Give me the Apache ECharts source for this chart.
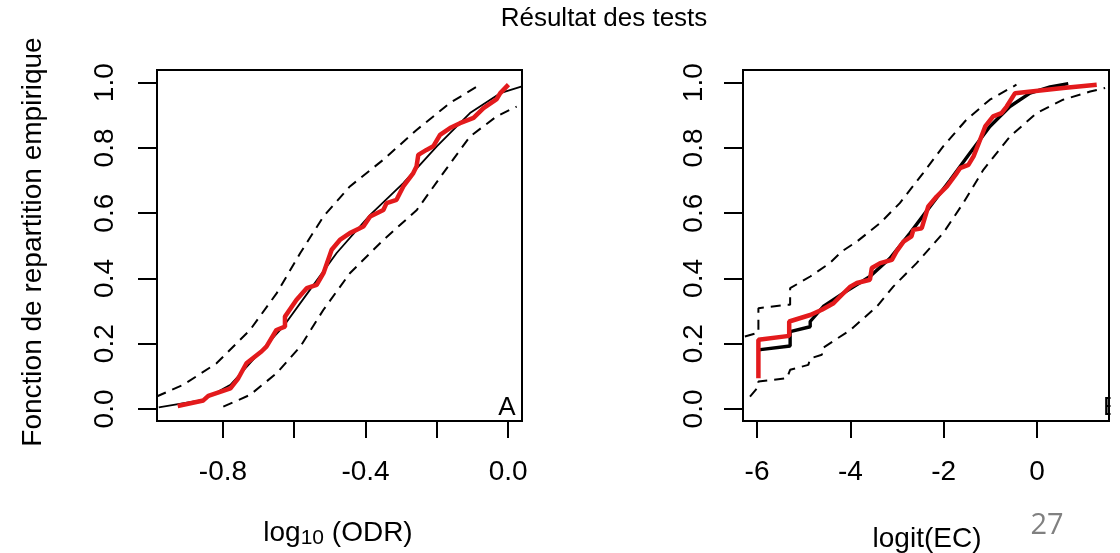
<!DOCTYPE html>
<html>
<head>
<meta charset="utf-8">
<script src="https://cdn.jsdelivr.net/npm/echarts@6/dist/echarts.min.js"></script>
<style>
html,body{margin:0;padding:0;background:#fff;}
#chart{width:1120px;height:553px;}
</style>
</head>
<body>
<div id="chart"></div>
<script>
// ---------- text ----------
const titleText = 'Résultat des tests';
const yAxisTitle = 'Fonction de repartition empirique';
const panelALabel = 'A';
const panelBLabel = 'B';
const pageNumber = '27';

// ---------- ticks ----------
const yTicks = [0, 0.2, 0.4, 0.6, 0.8, 1.0];
const odrTicks = [-0.8, -0.6, -0.4, -0.2, 0];
const odrTickLabels = [-0.8, -0.4, 0];
const ecTicks = [-6, -4, -2, 0];

// ---------- panel A : log10(ODR) ----------
const odrTheoretical = [
  [-0.98, 0.005], [-0.855, 0.028], [-0.779, 0.074], [-0.724, 0.14], [-0.631, 0.252],
  [-0.556, 0.365], [-0.481, 0.478], [-0.387, 0.595], [-0.294, 0.692], [-0.2, 0.805],
  [-0.107, 0.907], [-0.022, 0.968], [0.039, 0.989]
];
const odrUpper = [
  [-0.986, 0.038], [-0.911, 0.074], [-0.818, 0.14], [-0.724, 0.242], [-0.649, 0.355],
  [-0.583, 0.478], [-0.518, 0.59], [-0.444, 0.682], [-0.35, 0.764], [-0.256, 0.856],
  [-0.163, 0.938], [-0.083, 0.991]
];
const odrLower = [
  [-0.799, 0.007], [-0.724, 0.043], [-0.649, 0.11], [-0.583, 0.191], [-0.518, 0.304],
  [-0.444, 0.416], [-0.35, 0.518], [-0.256, 0.61], [-0.182, 0.723], [-0.107, 0.835],
  [-0.032, 0.897], [0.024, 0.927]
];
const odrEmpirical = [
  [-0.927, 0.009], [-0.855, 0.026], [-0.841, 0.04], [-0.779, 0.063], [-0.757, 0.094],
  [-0.734, 0.14], [-0.692, 0.176], [-0.678, 0.191], [-0.65, 0.242], [-0.626, 0.252],
  [-0.626, 0.283], [-0.594, 0.334], [-0.565, 0.37], [-0.537, 0.38], [-0.518, 0.416],
  [-0.495, 0.488], [-0.472, 0.518], [-0.444, 0.539], [-0.406, 0.559], [-0.387, 0.59],
  [-0.35, 0.61], [-0.341, 0.631], [-0.313, 0.641], [-0.294, 0.682], [-0.266, 0.723],
  [-0.257, 0.743], [-0.252, 0.779], [-0.229, 0.794], [-0.21, 0.805], [-0.191, 0.84],
  [-0.163, 0.861], [-0.135, 0.876], [-0.097, 0.892], [-0.069, 0.922], [-0.032, 0.95],
  [-0.022, 0.968], [0.001, 0.994]
];

// ---------- panel B : logit(EC) ----------
const ecTheoretical = [
  [-5.97, 0.181], [-5.29, 0.193], [-5.29, 0.237], [-4.86, 0.252], [-4.86, 0.268],
  [-4.58, 0.314], [-4.15, 0.355], [-3.58, 0.406], [-3.15, 0.462], [-2.72, 0.539],
  [-2.29, 0.621], [-1.86, 0.702], [-1.44, 0.784], [-1.01, 0.866], [-0.58, 0.927],
  [-0.15, 0.968], [0.28, 0.987], [0.67, 0.997]
];
const ecUpper = [
  [-6.26, 0.222], [-5.97, 0.234], [-5.97, 0.309], [-5.36, 0.319], [-5.29, 0.319],
  [-5.29, 0.37], [-4.86, 0.406], [-4.44, 0.447], [-4.18, 0.483], [-3.86, 0.513],
  [-3.36, 0.57], [-2.94, 0.631], [-2.44, 0.723], [-2.01, 0.805], [-1.51, 0.887],
  [-1.01, 0.948], [-0.44, 0.994]
];
const ecLower = [
  [-6.15, 0.038], [-5.97, 0.068], [-5.97, 0.084], [-5.36, 0.094], [-5.29, 0.12],
  [-4.9, 0.135], [-4.86, 0.155], [-4.61, 0.166], [-4.6, 0.186], [-4.0, 0.242],
  [-3.43, 0.314], [-3.08, 0.375], [-2.58, 0.447], [-2.01, 0.539], [-1.58, 0.631],
  [-1.15, 0.733], [-0.58, 0.835], [-0.01, 0.907], [0.56, 0.948], [1.14, 0.973],
  [1.46, 0.984]
];
const ecEmpirical = [
  [-5.97, 0.094], [-5.97, 0.212], [-5.31, 0.224], [-5.31, 0.268], [-4.86, 0.288],
  [-4.61, 0.304], [-4.36, 0.324], [-4.18, 0.35], [-4.0, 0.375], [-3.86, 0.386],
  [-3.58, 0.396], [-3.54, 0.432], [-3.36, 0.447], [-3.11, 0.457], [-3.01, 0.483],
  [-2.86, 0.513], [-2.69, 0.529], [-2.65, 0.549], [-2.47, 0.554], [-2.33, 0.621],
  [-2.15, 0.651], [-1.93, 0.682], [-1.72, 0.723], [-1.65, 0.738], [-1.47, 0.748],
  [-1.36, 0.774], [-1.26, 0.81], [-1.11, 0.866], [-0.94, 0.897], [-0.76, 0.907],
  [-0.65, 0.927], [-0.47, 0.968], [0.56, 0.984], [1.28, 0.994]
];

// ---------- chart ----------
const FONT = '"Liberation Sans", Arial, Helvetica, sans-serif';
const chart = echarts.init(document.getElementById('chart'), null, {renderer: 'canvas'});

function xAxisCfg(grid, min, max, ticks, labels, fmt) {
  return {
    gridIndex: grid, type: 'value', min: min, max: max,
    axisLine: {show: true, onZero: false, lineStyle: {color: '#000', width: 2}},
    splitLine: {show: false},
    axisTick: {show: true, customValues: ticks, length: 17, lineStyle: {color: '#000', width: 2}},
    axisLabel: {customValues: labels, formatter: fmt, fontSize: 28, color: '#000',
                fontFamily: FONT, margin: 37}
  };
}
function yAxisCfg(grid, margin) {
  return {
    gridIndex: grid, type: 'value', min: -0.037, max: 1.039,
    axisLine: {show: true, onZero: false, lineStyle: {color: '#000', width: 2}},
    splitLine: {show: false},
    axisTick: {show: true, customValues: yTicks, length: 19, lineStyle: {color: '#000', width: 2}},
    axisLabel: {customValues: yTicks, formatter: v => v.toFixed(1), rotate: 90,
                fontSize: 28, color: '#000', fontFamily: FONT, margin: margin}
  };
}
function lineSeries(data, xi, color, width, type) {
  return {
    type: 'line', xAxisIndex: xi, yAxisIndex: xi, data: data,
    showSymbol: false, symbol: 'none', smooth: false, clip: true,
    lineStyle: {color: color, width: width, type: type || 'solid'},
    silent: true, animation: false, z: 3
  };
}

const option = {
  backgroundColor: '#fff',
  animation: false,
  grid: [
    {left: 157, top: 70, width: 365, height: 351, show: true, borderColor: '#000', borderWidth: 2,
     backgroundColor: 'transparent'},
    {left: 743, top: 70, width: 366, height: 351, show: true, borderColor: '#000', borderWidth: 2,
     backgroundColor: 'transparent'}
  ],
  xAxis: [
    xAxisCfg(0, -0.985, 0.039, odrTicks, odrTickLabels, v => v.toFixed(1)),
    xAxisCfg(1, -6.3, 1.543, ecTicks, ecTicks, v => String(v))
  ],
  yAxis: [yAxisCfg(0, 38), yAxisCfg(1, 35)],
  series: [
    lineSeries(odrUpper, 0, '#000', 2, [10, 7]),
    lineSeries(odrLower, 0, '#000', 2, [10, 7]),
    lineSeries(odrTheoretical, 0, '#000', 1.8),
    lineSeries(odrEmpirical, 0, '#e31a1c', 4.5),
    lineSeries(ecUpper, 1, '#000', 2, [10, 7]),
    lineSeries(ecLower, 1, '#000', 2, [10, 7]),
    lineSeries(ecTheoretical, 1, '#000', 3.4),
    lineSeries(ecEmpirical, 1, '#e31a1c', 4.5)
  ],
  graphic: [
    {type: 'text', x: 604, y: 19, z: 50,
     style: {text: titleText, fontSize: 26, fontFamily: FONT, fill: '#000',
             textAlign: 'center', textVerticalAlign: 'middle'}},
    {type: 'text', x: 33, y: 242, rotation: Math.PI / 2, z: 50,
     style: {text: yAxisTitle, fontSize: 28, fontFamily: FONT, fill: '#000',
             textAlign: 'center', textVerticalAlign: 'middle'}},
    {type: 'text', x: 338, y: 533, z: 50,
     style: {text: '{a|log}{s|10}{a| (ODR)}', fontFamily: FONT, fill: '#000',
             textAlign: 'center', textVerticalAlign: 'middle',
             rich: {a: {fontSize: 28, lineHeight: 32, fontFamily: FONT},
                    s: {fontSize: 21, lineHeight: 16, verticalAlign: 'bottom', fontFamily: FONT}}}},
    {type: 'text', x: 927, y: 539, z: 50,
     style: {text: 'logit(EC)', fontSize: 28, fontFamily: FONT, fill: '#000',
             textAlign: 'center', textVerticalAlign: 'middle'}},
    {type: 'text', x: 507, y: 408, z: 50,
     style: {text: panelALabel, fontSize: 26, fontFamily: FONT, fill: '#000',
             textAlign: 'center', textVerticalAlign: 'middle'}},
    {type: 'text', x: 1103, y: 408, z: 50,
     style: {text: panelBLabel, fontSize: 26, fontFamily: FONT, fill: '#000',
             textAlign: 'left', textVerticalAlign: 'middle'}},
    {type: 'rect', z: 100, shape: {x: 1110.5, y: 380, width: 12, height: 40},
     style: {fill: '#fff'}},
    {type: 'text', x: 1047, y: 526, z: 50,
     style: {text: pageNumber, fontSize: 29, fontFamily: '"Open Sans", "Noto Sans", sans-serif',
             fill: '#808080', textAlign: 'center', textVerticalAlign: 'middle'}}
  ]
};
chart.setOption(option);
</script>
</body>
</html>
